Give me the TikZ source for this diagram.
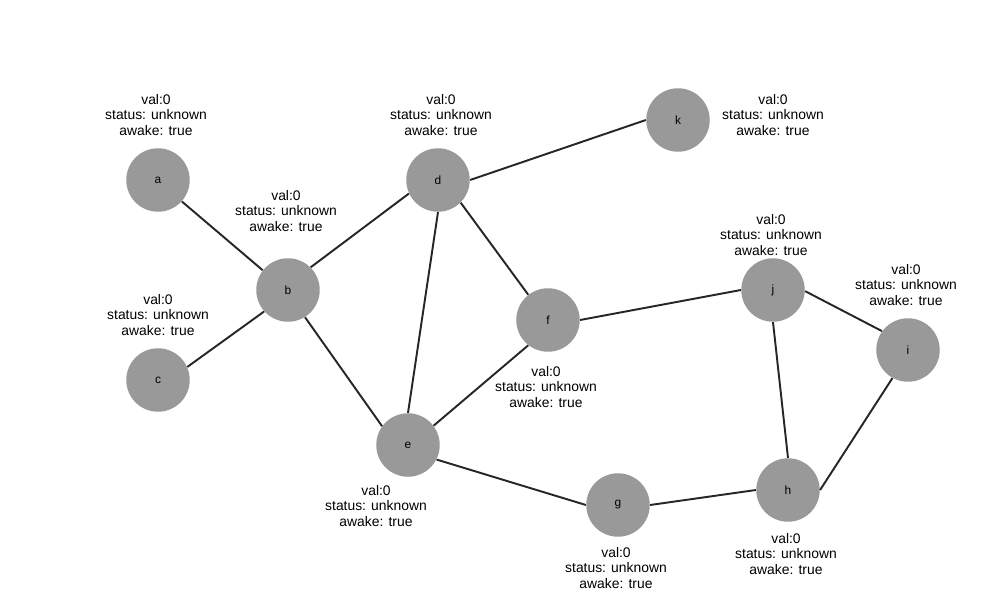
\documentclass[tikz,border=0pt]{standalone}
\usepackage{fontspec}
\setmainfont{Liberation Sans}
\usepackage{xcolor}
\definecolor{nodegray}{HTML}{999999}
\definecolor{edgegray}{HTML}{262626}
\begin{document}
\begin{tikzpicture}[
    x=0.02cm, y=-0.02cm,
    vertex/.style={circle, fill=nodegray, minimum size=1.27cm, inner sep=0pt, font=\fontsize{6.8}{8}\selectfont},
    info/.style={align=center, inner sep=0pt, font=\fontsize{7.9}{9.07}\selectfont},
    link/.style={draw=edgegray, line width=1.1pt},
]
    \useasboundingbox (0,0) rectangle (1001,611);

    % Vertices
    \node[vertex] (a) at (158,180) {a};
    \node[vertex] (b) at (288,290) {b};
    \node[vertex] (c) at (158,380) {c};
    \node[vertex] (d) at (438,180) {d};
    \node[vertex] (e) at (408,445) {e};
    \node[vertex] (f) at (548,320) {f};
    \node[vertex] (g) at (618,505) {g};
    \node[vertex] (h) at (788,490) {h};
    \node[vertex] (i) at (908,350) {i};
    \node[vertex] (j) at (773,290) {j};
    \node[vertex] (k) at (678,120) {k};

    % Labels
    \node[info] (la) at (156,115) {val:0\\status: unknown\\awake: true};
    \node[info] (lb) at (286,211) {val:0\\status: unknown\\awake: true};
    \node[info] (lc) at (158,315) {val:0\\status: unknown\\awake: true};
    \node[info] (ld) at (441,115) {val:0\\status: unknown\\awake: true};
    \node[info] (lk) at (773,115) {val:0\\status: unknown\\awake: true};
    \node[info] (lj) at (771,235) {val:0\\status: unknown\\awake: true};
    \node[info] (li) at (906,285) {val:0\\status: unknown\\awake: true};
    \node[info] (lf) at (546,387) {val:0\\status: unknown\\awake: true};
    \node[info] (le) at (376,506) {val:0\\status: unknown\\awake: true};
    \node[info] (lg) at (616,568) {val:0\\status: unknown\\awake: true};
    \node[info] (lh) at (786,554) {val:0\\status: unknown\\awake: true};

    % Edges
    \draw[link] (a.-42) -- (b.142);
    \draw[link] (b.222) -- (c.24);
    \draw[link] (b.45) -- (d.205);
    \draw[link] (b.-58) -- (e.144);
    \draw[link] (d.270) -- (e.90);
    \draw[link] (d.-45) -- (f.128);
    \draw[link] (d.0) -- (k.180);
    \draw[link] (e.37) -- (f.232);
    \draw[link] (e.-27) -- (g.180);
    \draw[link] (f.0) -- (j.180);
    \draw[link] (g.0) -- (h.180);
    \draw[link] (j.270) -- (h.90);
    \draw[link] (j.-2) -- (i.144);
    \draw[link] (i.241) -- (h.0);
\end{tikzpicture}
\end{document}
